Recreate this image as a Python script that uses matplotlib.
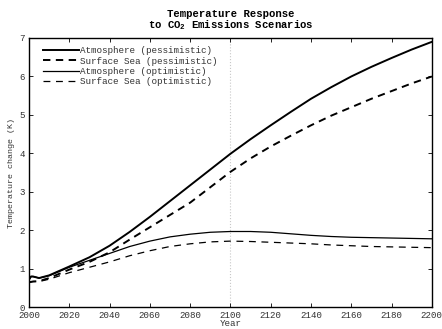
import matplotlib
matplotlib.use("Agg")
import matplotlib.pyplot as plt

# ── data ──────────────────────────────────────────────────────────────────────
years = [2000, 2001, 2002, 2005, 2010, 2020, 2030, 2040, 2050, 2060, 2070,
         2080, 2090, 2100, 2110, 2120, 2130, 2140, 2150, 2160, 2170, 2180,
         2190, 2200]

atm_pess = [0.72, 0.80, 0.80, 0.76, 0.83, 1.06, 1.30, 1.60, 1.96, 2.35, 2.76,
            3.17, 3.58, 3.99, 4.37, 4.73, 5.08, 5.42, 5.72, 6.00, 6.25, 6.48,
            6.70, 6.90]
sea_pess = [0.65, 0.66, 0.67, 0.68, 0.76, 0.98, 1.18, 1.43, 1.76, 2.08, 2.40,
            2.72, 3.12, 3.52, 3.87, 4.18, 4.46, 4.73, 4.98, 5.20, 5.42, 5.62,
            5.82, 6.00]
atm_opt = [0.72, 0.80, 0.80, 0.76, 0.82, 1.04, 1.22, 1.40, 1.58, 1.72, 1.83,
           1.90, 1.95, 1.97, 1.97, 1.95, 1.91, 1.87, 1.84, 1.82, 1.81, 1.80,
           1.79, 1.78]
sea_opt = [0.65, 0.66, 0.67, 0.67, 0.73, 0.90, 1.04, 1.18, 1.34, 1.47, 1.58,
           1.65, 1.70, 1.72, 1.71, 1.69, 1.67, 1.65, 1.62, 1.60, 1.58, 1.57,
           1.56, 1.55]

# label, values, dash pattern (None = solid), line width
series = [
    ("Atmosphere (pessimistic)", atm_pess, None, 1.4),
    ("Surface Sea (pessimistic)", sea_pess, (3.8, 2.8), 1.4),
    ("Atmosphere (optimistic)", atm_opt, None, 0.9),
    ("Surface Sea (optimistic)", sea_opt, (5.5, 4.5), 0.9),
]

plt.rcParams["font.family"] = ["Liberation Mono", "DejaVu Sans Mono"]

fig = plt.figure(figsize=(4.42, 3.29), dpi=100)
ax = fig.add_axes([0.0656, 0.066, 0.9114, 0.8185])

for label, vals, dash, lw in series:
    if dash is None:
        ax.plot(years, vals, color="black", ls="-", lw=lw, label=label)
    else:
        ax.plot(years, vals, color="black", ls="--", dashes=dash, lw=lw,
                label=label)

ax.axvline(2100, color="#c8c8c8", ls=":", lw=0.8, zorder=0)

ax.set_xlim(2000, 2200)
ax.set_ylim(0, 7)
ax.set_xticks(range(2000, 2201, 20))
ax.set_yticks(range(0, 8))
ax.tick_params(direction="in", top=True, right=True, labelsize=6.6,
               length=3, width=0.6, labelcolor="#333333")
ax.tick_params(axis="x", pad=3)
ax.tick_params(axis="y", pad=3)
for sp in ax.spines.values():
    sp.set_linewidth(1.0)

ax.set_xlabel("Year", fontsize=6.6, labelpad=-1, color="#333333")
ax.set_ylabel("Temperature change (K)", fontsize=6, labelpad=3, color="#333333")
ax.set_title("Temperature Response\nto CO$_\\mathregular{2}$ Emissions Scenarios",
             fontsize=7.7, fontweight="bold", linespacing=0.9, pad=7)

ax.legend(loc="upper left", frameon=False, fontsize=6.7, handlelength=3.9,
          handletextpad=0.15, labelspacing=0.15, borderaxespad=0.2,
          bbox_to_anchor=(0.02, 0.99), labelcolor="#333333")

fig.savefig("out.png", dpi=100)
